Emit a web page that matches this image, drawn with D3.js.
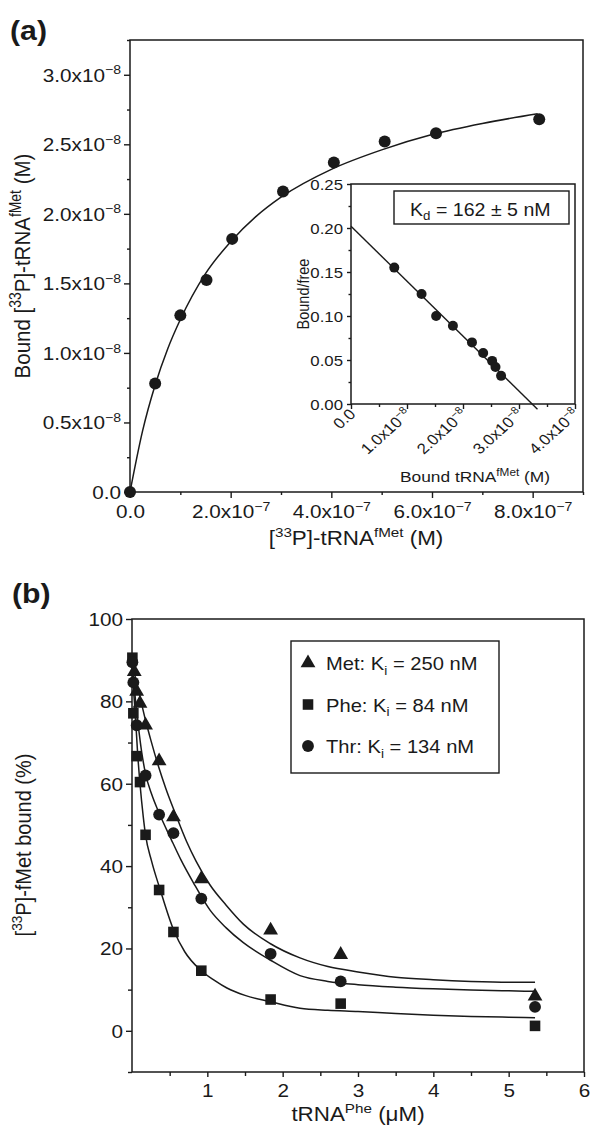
<!DOCTYPE html>
<html>
<head>
<meta charset="utf-8">
<script src="https://cdn.jsdelivr.net/npm/d3@7"></script>
<style>
  body { margin: 0; background: #fff; }
  svg { display: block; }
</style>
</head>
<body>
<div id="chart"></div>
<script>
// ---- panel (a): saturation binding ----
const bindConc  = [0, 0.5e-7, 1.0e-7, 1.52e-7, 2.03e-7, 3.04e-7, 4.05e-7, 5.06e-7, 6.08e-7, 8.13e-7];
const bindBound = [0, 0.78e-8, 1.27e-8, 1.525e-8, 1.82e-8, 2.16e-8, 2.37e-8, 2.52e-8, 2.58e-8, 2.68e-8];
// fitted curve
const fitConc  = [0, 0.25e-7, 0.5e-7, 0.75e-7, 1e-7, 1.5e-7, 2e-7, 2.5e-7, 3e-7, 4e-7, 5e-7, 6e-7, 7e-7, 8.1e-7];
const fitBound = [0, 0.44e-8, 0.77e-8, 1.03e-8, 1.24e-8, 1.57e-8, 1.80e-8, 1.98e-8, 2.12e-8, 2.32e-8, 2.46e-8, 2.57e-8, 2.65e-8, 2.72e-8];

const aXTicks = [0, 2e-7, 4e-7, 6e-7, 8e-7];
const aXTickLabels = ["0.0", "2.0x10^\u22127", "4.0x10^\u22127", "6.0x10^\u22127", "8.0x10^\u22127"];
const aXMinor = [1e-7, 3e-7, 5e-7, 7e-7, 9e-7];
const aYTicks = [0, 0.5e-8, 1.0e-8, 1.5e-8, 2.0e-8, 2.5e-8, 3.0e-8];
const aYTickLabels = ["0.0", "0.5x10^\u22128", "1.0x10^\u22128", "1.5x10^\u22128", "2.0x10^\u22128", "2.5x10^\u22128", "3.0x10^\u22128"];
const aYMinor = [0.25e-8, 0.75e-8, 1.25e-8, 1.75e-8, 2.25e-8, 2.75e-8, 3.25e-8];

// ---- inset: Scatchard plot ----
const scBound = [0.773e-8, 1.26e-8, 1.52e-8, 1.82e-8, 2.16e-8, 2.36e-8, 2.52e-8, 2.58e-8, 2.68e-8];
const scRatio = [0.155, 0.125, 0.100, 0.089, 0.070, 0.058, 0.049, 0.042, 0.032];
const scLineX = [0, 3.33e-8];
const scLineY = [0.202, -0.006];
const inXTicks = [0, 1e-8, 2e-8, 3e-8, 4e-8];
const inXTickLabels = ["0.0", "1.0x10^\u22128", "2.0x10^\u22128", "3.0x10^\u22128", "4.0x10^\u22128"];
const inXMinor = [0.5e-8, 1.5e-8, 2.5e-8, 3.5e-8];
const inYTicks = [0, 0.05, 0.10, 0.15, 0.20, 0.25];
const inYTickLabels = ["0.00", "0.05", "0.10", "0.15", "0.20", "0.25"];
const inYMinor = [0.025, 0.075, 0.125, 0.175, 0.225];

// ---- panel (b): competition ----
const metX = [0.03, 0.062, 0.106, 0.18, 0.36, 0.55, 0.92, 1.84, 2.77, 5.35];
const metY = [87.2, 82.4, 79.5, 74.2, 65.5, 51.9, 36.9, 24.4, 18.5, 8.4];
const pheX = [0.005, 0.018, 0.062, 0.106, 0.18, 0.36, 0.55, 0.92, 1.84, 2.77, 5.35];
const pheY = [90.6, 77.1, 66.7, 60.4, 47.6, 34.2, 24.0, 14.6, 7.6, 6.6, 1.2];
const thrX = [0.005, 0.018, 0.062, 0.18, 0.36, 0.55, 0.92, 1.84, 2.77, 5.35];
const thrY = [89.5, 84.6, 74.2, 62.0, 52.5, 48.0, 32.1, 18.7, 12.0, 5.8];

const metFitX = [0, 0.04, 0.1, 0.173, 0.25, 0.35, 0.45, 0.57, 0.726, 0.85, 1.036, 1.25, 1.478, 1.833, 2.23, 2.6, 3, 3.5, 4, 4.5, 5, 5.35];
const metFitY = [90, 86.2, 81.6, 75.9, 70.6, 64.3, 58.8, 53.0, 45.9, 41.2, 35.4, 30.5, 25.9, 21.2, 17.7, 15.6, 14.3, 13.0, 12.4, 12.0, 11.8, 11.8];
const thrFitX = [0, 0.02, 0.05, 0.084, 0.13, 0.18, 0.26, 0.35, 0.52, 0.65, 0.814, 1.036, 1.25, 1.478, 1.833, 2.23, 2.6, 3, 3.5, 4, 4.5, 5, 5.35];
const thrFitY = [90, 85.5, 79.5, 74, 67.5, 62.4, 57.5, 53.3, 46.5, 41.5, 36.0, 29.3, 25.0, 21.4, 17.2, 13.4, 12.0, 11.2, 10.6, 10.2, 9.9, 9.7, 9.6];
const pheFitX = [0, 0.02, 0.04, 0.075, 0.106, 0.15, 0.18, 0.26, 0.372, 0.55, 0.7, 0.9, 1.1, 1.26, 1.5, 1.833, 2.23, 2.6, 3, 3.5, 4, 4.5, 5, 5.35];
const pheFitY = [90, 83, 77.9, 67.3, 60, 51.9, 47.5, 41.2, 34.4, 24.6, 19.2, 14.9, 12.2, 10.4, 8.6, 7.1, 5.5, 5.0, 4.7, 4.2, 3.8, 3.5, 3.3, 3.2];

const legendLabels = ["Met: K_i_ = 250 nM", "Phe: K_i_ = 84 nM", "Thr: K_i_ = 134 nM"];
const bXTicks = [1, 2, 3, 4, 5, 6];
const bXMinor = [0.5, 1.5, 2.5, 3.5, 4.5, 5.5];
const bYTicks = [0, 20, 40, 60, 80, 100];
const bYMinor = [-10, 10, 30, 50, 70, 90];

const FONT = '"Liberation Sans", Arial, Helvetica, sans-serif';
const SX = 1.12;       // the original figure is a bit wide-stretched
const INK = "#1a1a1a";

const svg = d3.select("#chart").append("svg")
    .attr("width", 600).attr("height", 1148)
    .style("font-family", FONT);

// text with ^superscript^ and _subscript_ parts
function rich(text, str, size) {
    const parts = [];
    let mode = 0, buf = "";
    for (const ch of str) {
        if (ch === "^" || ch === "_") {
            if (buf) parts.push([buf, mode]);
            buf = "";
            const m = ch === "^" ? 1 : 2;
            mode = mode === m ? 0 : m;
        } else buf += ch;
    }
    if (buf) parts.push([buf, mode]);
    let shift = 0;
    parts.forEach(([t, m]) => {
        const off = m === 1 ? -0.4 * size : m === 2 ? 0.25 * size : 0;
        const ts = text.append("tspan").attr("dy", off - shift).text(t);
        if (m) ts.attr("font-size", size * 0.68);
        shift = off;
    });
}

function label(x, y, str, size, opts = {}) {
    const t = svg.append("text")
        .attr("transform", `translate(${x},${y}) scale(${SX},1)` + (opts.rotate ? ` rotate(${opts.rotate})` : ""))
        .attr("font-size", size)
        .attr("font-weight", opts.bold ? "bold" : null)
        .attr("text-anchor", opts.anchor || "start")
        .attr("fill", INK);
    rich(t, str, size);
    return t;
}

function frame(x, y, w, h) {
    svg.append("rect")
        .attr("x", x).attr("y", y).attr("width", w).attr("height", h)
        .attr("fill", "#fff").attr("stroke", INK).attr("stroke-width", 1.5);
}

function axis(gen, pos, vert, values, labels, size, len, lbl) {
    const g = svg.append("g")
        .attr("transform", vert ? `translate(${pos},0)` : `translate(0,${pos})`)
        .call(gen.tickValues(values).tickSize(len).tickSizeOuter(0).tickFormat(""));
    g.select(".domain").remove();
    g.selectAll(".tick line").attr("stroke", INK).attr("stroke-width", 1.4);
    if (labels) {
        g.selectAll(".tick").each(function (d, i) {
            const t = d3.select(this).append("text")
                .attr("font-size", size)
                .attr("fill", INK)
                .attr("text-anchor", lbl.anchor)
                .attr("transform", lbl.transform);
            rich(t, labels[i], size);
        });
    }
    return g;
}

// ================= panel (a) =================
const xA = d3.scaleLinear([0, 9e-7], [130, 583]);
const yA = d3.scaleLinear([0, 3.25e-8], [492, 40]);

frame(130, 40, 453, 452);
axis(d3.axisBottom(xA), 492, false, aXTicks, aXTickLabels, 18.5, 6,
    { anchor: "middle", transform: `translate(0,26) scale(${SX},1)` });
axis(d3.axisBottom(xA), 492, false, aXMinor, null, 0, 3);
axis(d3.axisLeft(yA), 130, true, aYTicks, aYTickLabels, 18.5, 6,
    { anchor: "end", transform: `translate(-9,6.5) scale(${SX},1)` });
axis(d3.axisLeft(yA), 130, true, aYMinor, null, 0, 3);

const lineA = d3.line().x(i => xA(fitConc[i])).y(i => yA(fitBound[i])).curve(d3.curveMonotoneX);
svg.append("path").attr("d", lineA(d3.range(fitConc.length)))
    .attr("fill", "none").attr("stroke", INK).attr("stroke-width", 1.5);

svg.append("g").selectAll("circle").data(d3.range(bindConc.length)).join("circle")
    .attr("cx", i => xA(bindConc[i])).attr("cy", i => yA(bindBound[i]))
    .attr("r", 6).attr("fill", INK);

label(10, 40, "(a)", 27, { bold: true });
label(30, 266, "Bound [^33^P]-tRNA^fMet^ (M)", 20.5, { rotate: -90, anchor: "middle" });
label(356, 545, "[^33^P]-tRNA^fMet^ (M)", 20, { anchor: "middle" });

// ---------------- inset ----------------
const xI = d3.scaleLinear([0, 4e-8], [351, 575]);
const yI = d3.scaleLinear([0, 0.25], [404, 184]);

frame(351, 184, 224, 220);
axis(d3.axisBottom(xI), 404, false, inXTicks, inXTickLabels, 15, 5,
    { anchor: "end", transform: `translate(5,11) scale(${SX},1) rotate(-45)` });
axis(d3.axisBottom(xI), 404, false, inXMinor, null, 0, 3);
axis(d3.axisLeft(yI), 351, true, inYTicks, inYTickLabels, 15, 4,
    { anchor: "end", transform: `translate(-8,5.5) scale(${SX},1)` });
axis(d3.axisLeft(yI), 351, true, inYMinor, null, 0, 2.5);

svg.append("line")
    .attr("x1", xI(scLineX[0])).attr("y1", yI(scLineY[0]))
    .attr("x2", xI(scLineX[1])).attr("y2", yI(scLineY[1]))
    .attr("stroke", INK).attr("stroke-width", 1.4);

svg.append("g").selectAll("circle").data(d3.range(scBound.length)).join("circle")
    .attr("cx", i => xI(scBound[i])).attr("cy", i => yI(scRatio[i]))
    .attr("r", 5).attr("fill", INK);

svg.append("rect").attr("x", 394).attr("y", 191).attr("width", 175).attr("height", 33)
    .attr("fill", "#fff").attr("stroke", INK).attr("stroke-width", 1.4);
label(410, 216, "K_d_ = 162 \u00b1 5 nM", 17.5);

label(309, 294, "Bound/free", 14.5, { rotate: -90, anchor: "middle" });
label(475, 482, "Bound tRNA^fMet^ (M)", 15.5, { anchor: "middle" });

// ================= panel (b) =================
const xB = d3.scaleLinear([0, 6], [132, 584]);
const yB = d3.scaleLinear([-10, 100], [1072, 619]);

frame(132, 619, 452, 453);
axis(d3.axisBottom(xB), 1072, false, bXTicks, bXTicks.map(String), 18.5, 5,
    { anchor: "middle", transform: `translate(0,25) scale(${SX},1)` });
axis(d3.axisBottom(xB), 1072, false, bXMinor, null, 0, 4);
axis(d3.axisLeft(yB), 132, true, bYTicks, bYTicks.map(String), 18.5, 6,
    { anchor: "end", transform: `translate(-9,6.5) scale(${SX},1)` });
axis(d3.axisLeft(yB), 132, true, bYMinor, null, 0, 4);

const fits = [[metFitX, metFitY], [pheFitX, pheFitY], [thrFitX, thrFitY]];
fits.forEach(([fx, fy]) => {
    const ln = d3.line().x(i => xB(fx[i])).y(i => yB(fy[i])).curve(d3.curveMonotoneX);
    svg.append("path").attr("d", ln(d3.range(fx.length)))
        .attr("fill", "none").attr("stroke", INK).attr("stroke-width", 1.5);
});

const series = [
    { x: metX, y: metY, sym: d3.symbolTriangle, size: 95 },
    { x: pheX, y: pheY, sym: d3.symbolSquare, size: 112 },
    { x: thrX, y: thrY, sym: d3.symbolCircle, size: 110 }
];
series.forEach(s => {
    svg.append("g").selectAll("path").data(d3.range(s.x.length)).join("path")
        .attr("transform", i => `translate(${xB(s.x[i])},${yB(s.y[i])})`)
        .attr("d", d3.symbol(s.sym, s.size)())
        .attr("fill", INK);
});

// legend
svg.append("rect").attr("x", 291).attr("y", 641).attr("width", 208).attr("height", 132)
    .attr("fill", "#fff").attr("stroke", INK).attr("stroke-width", 1.4);
const legY = d3.scalePoint().domain(d3.range(3)).range([663, 746]);
series.forEach((s, i) => {
    svg.append("path")
        .attr("transform", `translate(308,${legY(i)})`)
        .attr("d", d3.symbol(s.sym, s.size)())
        .attr("fill", INK);
    label(326, legY(i) + 7, legendLabels[i], 18);
});

label(12, 603, "(b)", 27, { bold: true });
label(31, 845, "[^33^P]-fMet bound (%)", 20, { rotate: -90, anchor: "middle" });
label(358, 1121, "tRNA^Phe^ (\u03bcM)", 20, { anchor: "middle" });
</script>
</body>
</html>
